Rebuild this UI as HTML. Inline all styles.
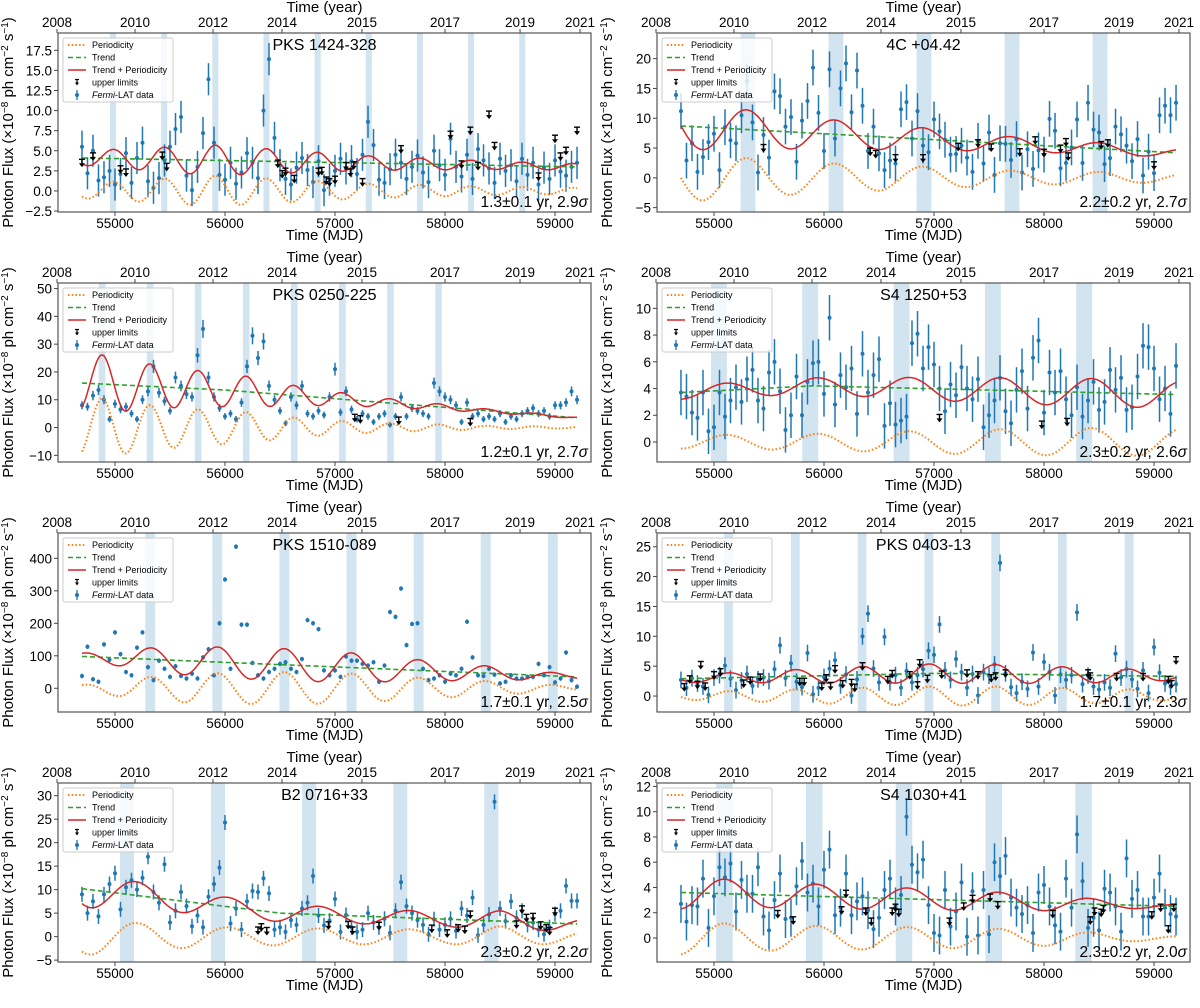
<!DOCTYPE html>
<html><head><meta charset="utf-8"><style>
body{margin:0;background:#fff}
svg text{font-family:"Liberation Sans",sans-serif;fill:#000}
</style></head><body>
<svg id="fig" xmlns="http://www.w3.org/2000/svg" width="1200" height="1003" viewBox="0 0 1200 1003"></svg>
<script>
// ---- shared axis data ----
const xTicks=[55000,56000,57000,58000,59000];
const yearLabels=["2008","2010","2012","2014","2015","2017","2019","2021"];
const yearTickMJD=[54473,55182,55891,56518,57245,58000,58682,59227];
const t0Data=54700, stepData=50;
const names=["PKS 1424-328","4C +04.42","PKS 0250-225","S4 1250+53","PKS 1510-089","PKS 0403-13","B2 0716+33","S4 1030+41"];
const notes=["1.3±0.1 yr, 2.9","2.2±0.2 yr, 2.7","1.2±0.1 yr, 2.7","2.3±0.2 yr, 2.6","1.7±0.1 yr, 2.5","1.7±0.1 yr, 2.3","2.3±0.2 yr, 2.2","2.3±0.2 yr, 2.0"];
const yLims=[[-2.62,19.65],[-5.73,24.3],[-12.4,52],[-1.5,11.9],[-73,478],[-2.67,27.3],[-5.4,32.7],[-1.9,12.27]];
const yTickVals=[[-2.5,0,2.5,5,7.5,10,12.5,15,17.5],[-5,0,5,10,15,20],[-10,0,10,20,30,40,50],[0,2,4,6,8,10],[0,100,200,300,400],[0,5,10,15,20,25],[-5,0,5,10,15,20,25,30],[0,2,4,6,8,10,12]];
const yTickDec=[1,0,0,0,0,0,0,0];
const errs=[2,3,1.6,1.7,7,1.4,1.6,1.5];
const periods=[465,800,437,830,610,607,825,830];
const phases=[54982,55300,54882,55110,55320,55132,55200,55100];
const bandStart=[54982,55309,54882,55045,55320,55132,55109,55095];
const bandSpacing=[465,800,437,830,610,607,828,816];
const bandCount=[9,5,8,5,7,7,5,5];
const bandWidth=[55,135,60,145,90,80,128,150];
// ---- panel data ----
const p1Flux=[5.5,2.2,5.0,1.3,1.7,2.5,0.8,2.1,4.7,1.0,4.1,6.0,1.2,0.4,1.6,3.8,5.5,7.7,9.2,1.9,0.1,3.0,7.2,13.9,6.0,2.0,1.4,3.5,0.9,2.3,4.7,3.5,1.6,10.0,16.4,6.6,3.2,1.5,0.8,2.9,4.1,2.6,1.1,3.7,0.1,1.4,2.5,4.0,2.8,3.7,2.1,4.5,8.6,5.7,1.4,1.0,2.7,4.5,3.5,1.5,3.0,4.4,2.3,1.1,5.0,3.2,2.0,6.5,3.0,1.8,4.5,1.5,5.2,3.8,2.8,1.0,4.0,2.5,3.2,1.2,4.0,2.0,3.5,0.8,2.9,1.5,3.8,2.4,1.9,3.0,3.5];
const p1UL=[[54700,3.5],[54800,4.3],[55050,2.7],[55100,2.3],[55430,4.4],[55470,3.0],[56480,3.4],[56520,2.1],[56550,2.4],[56630,1.5],[56850,2.4],[56880,2.5],[56920,1.3],[56950,1.1],[57000,1.4],[57100,3.1],[57140,2.3],[57170,3.2],[57250,1.1],[57600,5.2],[58050,7.0],[58150,3.3],[58230,7.5],[58300,3.1],[58400,9.5],[58450,5.6],[58850,1.8],[59000,6.5],[59050,4.3],[59100,5.0],[59200,7.5]];
const p1TrendT=[54700,59200], p1TrendV=[4.1,3.0];
const p1AmpT=[54700,55900,57300,58500,59200], p1AmpV=[0.9,1.9,0.9,0.5,0.4];

const p2Flux=[11.2,2.9,5.8,1.0,3.5,6.0,7.4,1.3,8.5,6.3,5.8,10.5,16.2,9.3,0.9,7.2,3.4,14.5,13.7,8.6,10.2,2.7,9.6,12.9,18.5,10.9,4.5,18.2,6.6,15.0,19.2,11.0,18.0,12.1,4.5,8.6,4.1,1.3,2.9,2.4,11.5,12.7,6.6,11.2,5.4,4.3,9.8,7.8,6.4,3.9,4.0,5.4,3.4,1.0,6.2,2.4,7.6,0.5,5.8,5.7,3.0,6.5,0.9,4.8,1.5,4.6,3.9,9.9,7.9,1.6,2.5,5.1,9.8,2.5,12.6,8.1,7.6,2.3,3.3,8.6,7.3,5.4,2.8,6.5,0.4,4.4,0.8,10.5,12.1,10.5,12.6];
const p2UL=[[55450,5.0],[56420,4.4],[56470,4.0],[56650,3.3],[56900,3.3],[57220,5.2],[57400,5.8],[57520,5.1],[57780,4.3],[57920,6.3],[58000,4.2],[58150,4.9],[58200,6.0],[58220,3.6],[58520,5.5],[58580,5.8],[59000,2.1]];
const p2TrendT=[54700,59200], p2TrendV=[8.7,4.2];
const p2AmpT=[54700,55300,56100,56900,57700,58500,59200], p2AmpV=[4.0,3.3,2.4,1.9,1.2,1.0,0.7];

const p3Flux=[8,7.5,11.5,13.5,10,3,8.5,6.5,7.5,5,3,10,13,22,12.5,9.5,6,18,15,12,11,26,35.5,18,11,7,4,5,3,9,22,33,25,31,15,10,6,1.5,11,8,15,5,4,6,4.5,11,21,5.5,13,6.5,3,5,4,2,4,5,1,4,11,4,7,6,5,4,16,13,11,10,8,2,9,4,5,3,4,3,5,2,4,3,5,6,7,5,6,4,8,8,9,13,10];
const p3UL=[[57180,3.5],[57230,3.0],[57580,2.5],[58230,2.0]];
const p3TrendT=[54700,56000,59200], p3TrendV=[16,13.5,3.5];
const p3AmpT=[54700,54900,55330,55770,56220,56650,57080,57520,57950,58400,59200], p3AmpV=[10,10.5,8,6.5,5.5,3.5,2.3,1.5,1.1,0.6,0.3];

const p4Flux=[3.7,3.4,2.2,1.8,3.7,0.8,1.1,3.7,1.9,3.1,4.1,3.0,4.7,5.4,3.1,2.5,5.2,6.0,3.8,0.9,2.0,4.9,2.0,4.5,5.9,6.0,3.6,9.3,2.8,5.0,4.1,5.5,2.1,6.6,3.7,5.0,6.2,1.2,2.9,1.3,1.6,1.9,7.4,8.1,5.5,7.1,5.8,4.0,2.3,4.3,3.5,5.6,4.0,3.2,4.7,1.1,2.0,3.1,4.8,2.3,1.4,3.9,5.3,2.5,6.3,7.6,2.2,5.2,3.7,5.3,3.2,2.0,4.1,1.9,3.1,4.5,2.4,3.0,5.4,3.9,4.8,2.4,2.6,4.9,7.2,7.1,5.5,3.2,4.0,2.1,5.7];
const p4UL=[[57050,1.8],[57980,1.3],[58210,1.5]];
const p4TrendT=[54700,55900,59200], p4TrendV=[3.7,4.2,3.55];
const p4AmpT=[54700,55900,57200,58500,59200], p4AmpV=[0.5,0.6,0.9,1.05,1.0];

const p5Flux=[38,128,28,20,135,88,172,105,50,40,125,172,65,25,85,60,35,68,38,30,45,30,95,120,40,200,335,60,436,196,196,78,40,30,50,60,75,80,60,50,90,210,200,182,55,40,55,35,98,85,85,75,70,80,20,70,235,220,307,133,198,200,60,25,30,40,20,45,40,60,205,95,40,38,60,42,15,20,40,30,30,35,35,75,40,65,18,30,110,25,5];
const p5UL=[];
const p5TrendT=[54700,59200], p5TrendV=[98,35];
const p5AmpT=[54700,55200,55700,56500,57200,57800,58400,59200], p5AmpV=[10,32,45,50,45,32,22,6];

const p6Flux=[2.7,1.4,3.0,2.1,1.6,0.2,3.1,3.5,5.1,2.9,1.0,2.6,3.7,1.7,2.8,3.1,2.5,4.5,8.5,3.0,5.5,2.4,1.5,7.2,0.3,1.4,3.2,4.6,6.0,1.8,3.6,0.1,2.8,10.0,13.8,4.6,2.3,9.9,2.3,3.5,1.4,4.2,2.3,3.5,4.5,7.6,6.9,12.0,4.3,2.7,6.2,4.0,1.4,3.7,0.1,4.0,3.4,5.3,22.3,3.8,1.5,0.5,2.4,1.2,7.3,1.6,5.7,4.0,0.1,3.6,2.7,3.5,14.0,2.0,3.4,1.6,1.1,2.3,1.4,7.1,3.1,4.5,2.8,1.2,4.3,0.5,8.2,3.9,2.1,1.6,2.0];
const p6UL=[[54730,1.5],[54780,2.8],[54850,1.9],[54880,5.2],[54920,1.6],[55000,3.5],[55060,4.0],[55270,2.1],[55330,2.6],[55420,3.1],[55780,2.4],[55820,2.4],[55980,1.6],[56020,3.0],[56060,1.7],[56100,4.5],[56170,2.0],[56250,2.2],[56280,1.4],[56350,5.0],[56580,2.7],[56620,3.7],[56780,3.5],[56850,1.8],[56870,5.5],[56940,2.9],[57070,3.6],[57300,3.8],[57400,3.5],[57520,3.0],[57560,3.3],[57650,3.8],[58400,3.8],[58420,3.3],[58660,3.2],[58900,3.2],[59130,2.7],[59160,2.0],[59200,6.0]];
const p6TrendT=[54700,57000,59200], p6TrendV=[2.9,3.8,3.3];
const p6AmpT=[54700,55100,56300,57000,57600,58800,59200], p6AmpV=[0.6,0.8,1.4,1.6,1.6,1.1,0.6];

const p7Flux=[9,5,7.5,4.3,9,11.2,13.5,5.8,10.5,12,10,12.5,17,9.5,7.2,15.4,3.0,5.5,9.5,6.5,2.2,4.5,2.0,8.5,11.2,14.7,24.3,2.8,6.0,1.5,7.5,9.7,9.5,12.4,9.2,1.5,2.0,1.0,3.5,2.5,6.0,7.2,12.9,4.5,2.4,3.4,8.0,1.0,4.6,2.0,1.0,1.5,5.0,3.0,2.0,3.8,0.8,5.5,11.6,6.5,5.0,3.5,2.5,0.5,3.7,1.5,2.5,3.8,1.2,6.0,4.5,8.3,0.3,2.5,4.7,28.7,6.0,3.3,7.5,4.0,5.5,2.5,3.0,1.5,0.5,2.0,4.8,5.5,10.8,7.6,7.6];
const p7UL=[[56300,1.3],[56330,2.0],[56380,1.2],[56940,2.4],[57120,2.5],[57160,1.3],[57400,2.3],[57880,1.7],[58020,0.7],[58120,1.8],[58180,1.5],[58230,4.7],[58650,2.6],[58700,5.8],[58740,4.0],[58800,4.2],[58870,2.4],[58920,1.8],[58950,1.2],[59000,5.3]];
const p7TrendT=[54700,56500,59200], p7TrendV=[10.2,5.0,2.7];
const p7AmpT=[54700,55200,56000,57000,58000,58500,59200], p7AmpV=[4,2.9,2.0,1.7,1.5,2.2,1.2];

const p8Flux=[2.7,1.3,2.6,2.5,4.7,0.8,3.3,5.6,4.8,5.9,2.1,4.6,3.5,3.5,5.6,1.7,0.6,3.0,5.1,1.5,1.6,4.1,6.1,3.6,4.3,2.5,5.4,7.0,1.8,2.4,5.1,1.8,2.9,3.3,2.2,0.7,1.6,3.8,4.7,2.5,3.4,9.6,5.8,5.2,6.2,2.6,0.4,0.2,3.8,0.9,2.1,4.4,0.1,3.7,0.2,3.8,0.3,6.0,4.9,6.5,3.2,2.4,1.9,2.6,0.4,3.6,4.2,2.5,1.0,0.5,4.7,2.4,8.2,4.5,0.8,1.6,0.6,3.9,3.6,2.5,0.5,6.3,3.1,3.8,1.7,1.7,3.2,5.1,2.4,1.9,1.7];
const p8UL=[[55580,1.9],[55720,1.4],[56160,2.2],[56200,3.5],[56380,2.1],[56430,1.3],[56620,2.1],[56650,2.4],[56680,2.0],[57140,1.3],[57270,2.5],[57350,3.1],[57510,3.2],[57580,2.6],[58080,1.9],[58420,1.4],[58460,2.1],[58520,2.0],[58540,2.3],[58980,1.8],[59060,2.4],[59130,0.7],[59180,2.4]];
const p8TrendT=[54700,59200], p8TrendV=[3.6,2.5];
const p8AmpT=[54700,55500,56500,57500,58100,58700,59200], p8AmpV=[1.3,1.0,0.9,0.75,0.6,0.3,0.15];

const fluxes=[p1Flux,p2Flux,p3Flux,p4Flux,p5Flux,p6Flux,p7Flux,p8Flux];
const uls=[p1UL,p2UL,p3UL,p4UL,p5UL,p6UL,p7UL,p8UL];
const trendTs=[p1TrendT,p2TrendT,p3TrendT,p4TrendT,p5TrendT,p6TrendT,p7TrendT,p8TrendT];
const trendVs=[p1TrendV,p2TrendV,p3TrendV,p4TrendV,p5TrendV,p6TrendV,p7TrendV,p8TrendV];
const ampTs=[p1AmpT,p2AmpT,p3AmpT,p4AmpT,p5AmpT,p6AmpT,p7AmpT,p8AmpT];
const ampVs=[p1AmpV,p2AmpV,p3AmpV,p4AmpV,p5AmpV,p6AmpV,p7AmpV,p8AmpV];

const NS="http://www.w3.org/2000/svg";
const svg=document.getElementById('fig');
function mk(tag,attrs,parent){const e=document.createElementNS(NS,tag);for(const k in attrs)e.setAttribute(k,attrs[k]);(parent||svg).appendChild(e);return e;}
function interp(T,V,t){if(t<=T[0])return V[0];for(let i=1;i<T.length;i++){if(t<=T[i]){const f=(t-T[i-1])/(T[i]-T[i-1]);return V[i-1]+f*(V[i]-V[i-1]);}}return V[V.length-1];}
const XMIN=54482,XMAX=59327,W=533,H=179;
const colL=[58,657],rowT=[33,283,533,783];

for(let p=0;p<8;p++){
  const L=colL[p%2],T=rowT[Math.floor(p/2)];
  const [y0,y1]=yLims[p];
  const X=m=>L+(m-XMIN)/(XMAX-XMIN)*W;
  const Y=v=>T+H-(v-y0)/(y1-y0)*H;
  const g=mk('g',{});
  
  
  const cid='clip'+p;
  const cp=mk('clipPath',{id:cid},g);mk('rect',{x:L,y:T,width:W,height:H},cp);
  const plot=mk('g',{'clip-path':'url(#'+cid+')'},g);
  for(let k=0;k<bandCount[p];k++){
    const c=bandStart[p]+k*bandSpacing[p];
    const b=mk('rect',{x:X(c-bandWidth[p]/2),y:T,width:X(c+bandWidth[p]/2)-X(c-bandWidth[p]/2),height:H,fill:'#1f77b4','fill-opacity':0.2},plot);
    
    
  }
  let dPer='',dTr='',dSum='';
  for(let t=54700;t<=59200;t+=10){
    const a=interp(ampTs[p],ampVs[p],t), tr=interp(trendTs[p],trendVs[p],t);
    const per=a*Math.cos(2*Math.PI*(t-phases[p])/periods[p]);
    const c=(t===54700?'M':'L');
    dPer+=c+X(t).toFixed(1)+','+Y(per).toFixed(1);
    dTr+=c+X(t).toFixed(1)+','+Y(tr).toFixed(1);
    dSum+=c+X(t).toFixed(1)+','+Y(tr+per).toFixed(1);
  }
  const fl=fluxes[p];
  for(let i=0;i<fl.length;i++){
    const m=t0Data+i*stepData, v=fl[i], e=errs[p]*(p===2?(0.6+v/25):1);
    const pt=mk('g',{},plot);
    
    
    mk('line',{x1:X(m),x2:X(m),y1:Y(v-e),y2:Y(v+e),stroke:'#1f77b4','stroke-width':1.5},pt);
    mk('circle',{cx:X(m),cy:Y(v),r:2,fill:'#1f77b4'},pt);
  }
  const pe=mk('path',{d:dPer,fill:'none',stroke:'#ff7f0e','stroke-width':2,'stroke-dasharray':'1.5,2.2'},plot);
  
  
  const tre=mk('path',{d:dTr,fill:'none',stroke:'#2ca02c','stroke-width':1.6,'stroke-dasharray':'5,3'},plot);
  
  
  const se=mk('path',{d:dSum,fill:'none',stroke:'#d62728','stroke-width':1.5},plot);
  
  
  for(const [m,v] of uls[p]){
    const u=mk('g',{},plot);
    
    
    const x=X(m),y=Y(v);
    mk('line',{x1:x-3,x2:x+3,y1:y-3.5,y2:y-3.5,stroke:'#000','stroke-width':1.4},u);
    mk('line',{x1:x,x2:x,y1:y-3.5,y2:y+2,stroke:'#000','stroke-width':1.4},u);
    mk('path',{d:`M${x-3},${y+0.5}L${x+3},${y+0.5}L${x},${y+4.5}Z`,fill:'#000'},u);
  }
  const fr=mk('rect',{x:L,y:T,width:W,height:H,fill:'none',stroke:'#555','stroke-width':1.2},g);
  
  
  for(const xt of xTicks){
    mk('line',{x1:X(xt),x2:X(xt),y1:T+H,y2:T+H+4,stroke:'#444'},g);
    const tl=mk('text',{x:X(xt),y:T+H+16,'text-anchor':'middle','font-size':13.5},g);tl.textContent=xt;
    
    
  }
  for(let k=0;k<yearLabels.length;k++){
    const x=X(yearTickMJD[k]);
    mk('line',{x1:x,x2:x,y1:T,y2:T-4,stroke:'#444'},g);
    const tl=mk('text',{x:x,y:T-6,'text-anchor':'middle','font-size':13.5},g);tl.textContent=yearLabels[k];
    
    
  }
  for(const yt of yTickVals[p]){
    const y=Y(yt);
    mk('line',{x1:L,x2:L-4,y1:y,y2:y,stroke:'#444'},g);
    const tl=mk('text',{x:L-6,y:y+5,'text-anchor':'end','font-size':13.5},g);
    tl.textContent=yt.toFixed(yTickDec[p]).replace('-','−');
    
    
  }
  const xl=mk('text',{x:L+W/2,y:T+H+28,'text-anchor':'middle','font-size':15},g);xl.textContent='Time (MJD)';
  
  
  const yrl=mk('text',{x:L+W/2,y:T-21,'text-anchor':'middle','font-size':15},g);yrl.textContent='Time (year)';
  
  
  const yl=mk('text',{x:0,y:0,'text-anchor':'middle','font-size':15,transform:`translate(${L-45},${T+H/2}) rotate(-90)`},g);
  yl.innerHTML='Photon Flux  (×10<tspan dy="-5" font-size="10">−8</tspan><tspan dy="5"> ph cm</tspan><tspan dy="-5" font-size="10">−2</tspan><tspan dy="5"> s</tspan><tspan dy="-5" font-size="10">−1</tspan><tspan dy="5">)</tspan>';
  
  
  const ti=mk('text',{x:L+W/2,y:T+17,'text-anchor':'middle','font-size':16},g);ti.textContent=names[p];
  
  
  const an=mk('text',{x:L+W-3,y:T+H-5,'text-anchor':'end','font-size':15.5},g);
  an.innerHTML=notes[p]+'<tspan font-style="italic">σ</tspan>';
  
  
  const lg=mk('g',{},g);
  
  
  mk('rect',{x:L+5,y:T+5,width:110,height:64,fill:'#fff','fill-opacity':0.8,stroke:'#ccc','stroke-width':1,rx:2},lg);
  const labs=['Periodicity','Trend','Trend + Periodicity','upper limits','Fermi-LAT data'];
  for(let k=0;k<5;k++){
    const y=T+12+k*12.5, lx=L+10;
    if(k===0)mk('line',{x1:lx,x2:lx+18,y1:y,y2:y,stroke:'#ff7f0e','stroke-width':2,'stroke-dasharray':'1.5,2.2'},lg);
    if(k===1)mk('line',{x1:lx,x2:lx+18,y1:y,y2:y,stroke:'#2ca02c','stroke-width':1.6,'stroke-dasharray':'5,3'},lg);
    if(k===2)mk('line',{x1:lx,x2:lx+18,y1:y,y2:y,stroke:'#d62728','stroke-width':1.5},lg);
    if(k===3){mk('line',{x1:lx+7,x2:lx+11,y1:y-3,y2:y-3,stroke:'#000','stroke-width':1.2},lg);mk('line',{x1:lx+9,x2:lx+9,y1:y-3,y2:y+1,stroke:'#000','stroke-width':1.2},lg);mk('path',{d:`M${lx+7},${y}L${lx+11},${y}L${lx+9},${y+3}Z`,fill:'#000'},lg);}
    if(k===4){mk('line',{x1:lx+9,x2:lx+9,y1:y-5,y2:y+5,stroke:'#1f77b4','stroke-width':1.3},lg);mk('circle',{cx:lx+9,cy:y,r:2,fill:'#1f77b4'},lg);}
    const lt=mk('text',{x:lx+24,y:y+3,'font-size':9},lg);
    if(k===4)lt.innerHTML='<tspan font-style="italic">Fermi</tspan>-LAT data';else lt.textContent=labs[k];
    
    
  }
}
</script>
</body></html>
